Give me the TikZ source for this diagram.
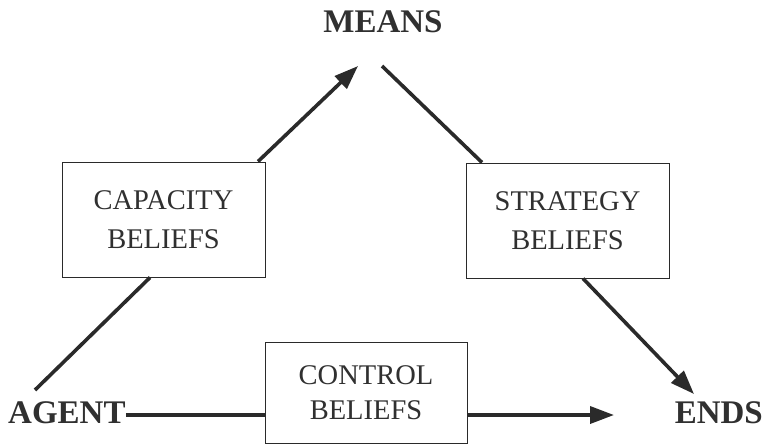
\documentclass[tikz,border=0pt]{standalone}
\usepackage{fontspec}
\setmainfont{Liberation Serif}
\usetikzlibrary{arrows.meta,calc}
\definecolor{ink}{HTML}{2A2A2A}
\definecolor{txt}{HTML}{303030}
\tikzset{
  bigword/.style={font=\fontsize{33}{36}\selectfont\bfseries, text=txt, inner sep=0pt},
  beliefbox/.style={draw=ink, line width=1pt, fill=white, minimum width=203pt, align=center,
    text=txt, font=\fontsize{28.5}{39}\selectfont, inner sep=0pt},
  conn/.style={draw=ink, line width=3.6pt},
  arr/.style={conn, -{Triangle[length=24pt,width=17pt]}}
}
\begin{document}
\begin{tikzpicture}[x=1pt,y=-1pt]
\useasboundingbox (0,0) rectangle (767,445);
\node[bigword] (means) at (383,22) {MEANS};
\node[bigword, anchor=west] (agent) at (8,413) {AGENT};
\node[bigword, anchor=east] (ends) at (763,413) {ENDS};
\node[beliefbox, minimum height=115pt] (cap) at (163.5,219.5) {CAPACITY\\BELIEFS};
\node[beliefbox, minimum height=115pt] (strat) at (567.5,220.5) {STRATEGY\\BELIEFS};
\node[beliefbox, minimum width=202pt, minimum height=101pt, font=\fontsize{28.5}{37}\selectfont] (ctl) at (366,392.5) {\raisebox{-4pt}{CONTROL}\\\raisebox{-2pt}{BELIEFS}};
\coordinate (agtop) at (35,390);
\coordinate (meanstip) at (358,66);
\coordinate (meansfoot) at (382,66);
\coordinate (endstip) at (694,394);
\coordinate (ctltip) at (614,415);
% agent -> capacity -> means
\draw[conn] (agtop) -- (cap.south -| 150,0);
\draw[arr] (cap.north -| 258,0) -- (meanstip);
% means -> strategy -> ends
\draw[conn] (meansfoot) -- (strat.north -| 482,0);
\draw[arr] (strat.south -| 583,0) -- (endstip);
% agent -> control -> ends
\draw[conn] (agent.east |- 0,415) -- (ctl.west |- 0,415);
\draw[arr] (ctl.east |- 0,415) -- (ctltip);
\end{tikzpicture}
\end{document}
